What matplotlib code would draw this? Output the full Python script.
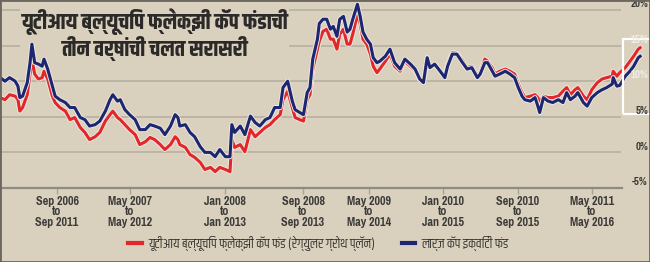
import matplotlib
matplotlib.use('Agg')
import matplotlib.pyplot as plt
import matplotlib.patheffects as pe
from matplotlib.lines import Line2D
from matplotlib.patches import Rectangle

# months counted from Sep 2006 (start of the rolling window)
months = [-6.1, -5.6, -5.1, -4.5, -4.2, -4.0, -3.7, -3.2, -2.9, -2.7, -2.4, -2.0, -1.6, -1.4, -1.0,
          -0.5, -0.2, 0.3, 0.9, 1.4, 1.9, 2.5, 3.0, 3.5, 4.1, 4.6, 5.2, 5.7, 6.0, 6.5,
          6.8, 7.3, 7.8, 8.4, 8.9, 9.5, 10.0, 10.5, 11.1, 11.6, 12.2, 12.7, 13.0, 13.2, 13.8,
          14.3, 14.8, 15.4, 15.9, 16.5, 17.0, 17.5, 18.1, 18.6, 18.8, 19.1, 19.7, 20.2, 20.8, 21.3,
          21.8, 22.4, 22.9, 23.4, 24.0, 24.3, 24.8, 25.3, 25.6, 26.1, 26.5, 26.9, 27.2, 27.5, 28.0,
          28.2, 28.6, 29.0, 29.4, 29.7, 30.1, 30.4, 30.8, 31.2, 31.5, 31.8, 32.3, 32.6, 32.9, 33.3,
          33.7, 34.0, 34.4, 34.7, 35.3, 35.8, 36.3, 36.9, 37.4, 38.0, 38.5, 39.0, 39.4, 39.8, 40.1,
          40.6, 41.2, 41.7, 42.0, 42.5, 43.0, 43.5, 44.1, 44.6, 45.2, 45.5, 46.0, 46.3, 46.8, 47.1,
          47.6, 48.2, 48.7, 49.2, 49.6, 50.0, 50.3, 50.9, 51.4, 51.7, 51.9, 52.3, 52.8, 53.3, 53.9,
          54.4, 54.8, 55.2, 55.7, 56.0, 56.6, 57.0, 57.5, 58.1, 58.6, 59.1, 59.7, 59.8, 60.2, 60.5,
          61.1, 61.6, 62.0, 62.5, 62.7]

# UTI Bluechip Flexicap fund (regular growth), 3-yr rolling return %
uti_fund = [7.7, 7.4, 8.1, 7.9, 7.4, 5.8, 6.3, 8.1, 11.0, 13.1, 11.0, 10.3, 10.5, 11.4, 10.3,
            7.9, 7.0, 6.3, 5.8, 4.6, 4.9, 3.5, 2.8, 1.8, 2.2, 2.8, 4.4, 5.3, 5.8, 4.9,
            4.6, 3.9, 3.2, 2.5, 1.1, 1.5, 2.1, 1.8, 1.1, 0.4, 1.1, 2.2, 1.8, 1.1, 0.7,
            -0.3, -0.7, -1.4, -2.4, -2.1, -2.7, -2.1, -2.4, -2.7, 1.8, 0.7, 1.1, 0.1, 3.2, 2.2,
            2.8, 3.5, 3.9, 4.6, 5.3, 7.4, 8.6, 6.3, 4.9, 4.6, 4.4, 7.4, 8.1, 11.7, 14.5,
            15.6, 17.0, 17.3, 15.9, 15.9, 14.5, 16.6, 17.3, 15.2, 15.2, 16.6, 19.4, 18.0, 15.9, 15.2,
            13.8, 12.1, 11.2, 11.7, 12.8, 13.8, 12.1, 11.4, 12.8, 12.1, 11.5, 10.3, 9.8, 13.3, 11.9,
            12.4, 11.4, 10.7, 12.4, 14.0, 13.9, 13.1, 11.9, 12.1, 10.8, 11.2, 13.1, 12.8, 11.9, 11.0,
            11.4, 11.7, 11.4, 11.0, 9.6, 8.4, 7.7, 7.9, 8.1, 7.7, 7.0, 7.9, 7.7, 7.7, 7.9,
            8.6, 9.1, 8.1, 8.8, 9.1, 7.9, 7.4, 8.8, 9.8, 10.3, 10.5, 10.7, 11.4, 10.7, 11.2,
            11.9, 12.8, 13.5, 14.5, 14.7]

# large cap equity funds category
large_cap = [10.5, 10.0, 10.5, 10.0, 9.3, 7.7, 7.9, 9.8, 12.6, 15.2, 12.6, 12.4, 12.1, 13.1, 11.7,
             9.3, 7.9, 7.4, 7.0, 6.3, 6.3, 4.9, 4.6, 3.7, 3.9, 4.4, 5.8, 7.4, 8.1, 7.2,
             7.4, 6.0, 5.3, 4.6, 3.2, 3.2, 3.9, 3.7, 3.4, 2.5, 3.7, 5.3, 4.9, 3.7, 3.9,
             2.8, 2.2, 0.8, 0.0, 0.0, -0.6, 0.4, -0.6, -0.6, 3.9, 2.8, 3.7, 2.5, 5.1, 4.2,
             3.7, 4.6, 4.9, 6.3, 6.3, 9.1, 10.0, 7.2, 6.0, 5.6, 5.3, 8.4, 9.1, 13.1, 15.9,
             18.1, 18.7, 18.7, 17.3, 17.7, 16.3, 18.7, 19.1, 16.9, 17.3, 18.7, 20.8, 19.1, 16.9, 15.9,
             15.2, 13.3, 12.6, 12.8, 13.5, 14.5, 12.6, 11.7, 13.1, 12.4, 11.7, 10.3, 9.8, 13.3, 11.9,
             12.4, 11.4, 10.5, 12.1, 13.8, 13.8, 12.8, 11.7, 11.9, 10.5, 11.0, 12.6, 12.6, 11.4, 10.7,
             11.0, 11.4, 11.0, 10.5, 9.1, 7.9, 7.4, 7.2, 7.7, 6.5, 5.6, 7.7, 7.2, 7.0, 7.4,
             7.0, 8.4, 7.4, 7.9, 8.4, 7.0, 6.5, 7.7, 8.4, 8.8, 9.1, 9.6, 10.5, 9.3, 9.4,
             10.7, 11.4, 12.1, 13.3, 13.5]

tick_pos = [0, 7.85, 18.06, 26.45, 33.55, 41.5, 49.57, 57.53]
tick_labels = ['Sep 2006\nto\nSep 2011', 'May 2007\nto\nMay 2012', 'Jan 2008\nto\nJan 2013',
               'Sep 2008\nto\nSep 2013', 'May 2009\nto\nMay 2014', 'Jan 2010\nto\nJan 2015',
               'Sep 2010\nto\nSep 2015', 'May 2011\nto\nMay 2016']
y_levels = [20, 15, 10, 5, 0, -5]

title = 'यूटीआय ब्ल्यूचिप फ्लेक्झी कॅप फंडाची\nतीन वर्षांची चलत सरासरी'
name_uti = 'यूटीआय ब्ल्यूचिप फ्लेक्झी कॅप फंड (रेग्युलर ग्रोथ प्लॅन)'
name_cat = 'लार्ज कॅप इक्विटी फंड'

BG = '#d9d0bd'
RED = '#e2262b'
BLUE = '#1d2670'
DEV = ['Khand', 'Noto Sans Devanagari', 'DejaVu Sans']
NARROW = ['Pragati Narrow', 'DejaVu Sans']

fig = plt.figure(figsize=(6.5, 2.62), dpi=100, facecolor=BG)
ax = fig.add_axes([0, 0.2824, 1, 0.7176])
ax.set_facecolor(BG)
ax.set_xlim(-6.13, 63.76)
ax.set_ylim(-5, 21.4)

grid_end = 0.955
ax.hlines(y_levels[:-1], 0, grid_end, transform=ax.get_yaxis_transform(),
          color='#b9b1a2', lw=1.3, zorder=1)

for s in ['top', 'left', 'right']:
    ax.spines[s].set_visible(False)
ax.spines['bottom'].set_color('#8f8b84')
ax.spines['bottom'].set_linewidth(1.6)
ax.spines['bottom'].set_bounds(-6.13, 60.75)

halo = [pe.withStroke(linewidth=3.6, foreground='#eee8dc')]
ax.plot(months, uti_fund, color=RED, lw=2.2, zorder=3, path_effects=halo,
        solid_joinstyle='round')
ax.plot(months, large_cap, color=BLUE, lw=2.2, zorder=4, path_effects=halo,
        solid_joinstyle='round')

ax.set_yticks([])
ax.set_xticks(tick_pos)
ax.set_xticklabels(tick_labels, fontfamily=NARROW, fontweight='bold', fontsize=9.5,
                   color='#3b3a38', linespacing=0.9)
ax.tick_params(axis='x', length=4, width=1, color='#a8a399', pad=2, direction='out')

for v in y_levels:
    faint = v in (15, 10)
    ax.text(0.997, v + 0.1, f'{v}%', transform=ax.get_yaxis_transform(),
            ha='right', va='bottom', fontsize=8.5, fontweight='bold', family=NARROW,
            color='#f2eee6' if faint else '#3b3a38', zorder=6)

# highlighted latest readings
ax.add_patch(Rectangle((0.958, (153 - 115) / 7.12), 0.045, (115 - 40) / 7.12,
                       transform=ax.get_yaxis_transform(),
                       fill=False, edgecolor='white', lw=1.6, zorder=5))

ax.text(0.238, 0.814, title, transform=ax.transAxes, ha='center', va='center', family=DEV,
        fontsize=16, fontweight='bold', color='#2b2a28', linespacing=1.05, zorder=2,
        bbox=dict(facecolor=BG, edgecolor='none', pad=1.0))

handles = [Line2D([], [], color=RED, lw=3), Line2D([], [], color=BLUE, lw=3)]
fig.legend(handles, [name_uti, name_cat], loc='center', bbox_to_anchor=(0.49, 0.072),
           ncol=2, frameon=False, handlelength=1.0, handletextpad=0.5, columnspacing=2.0,
           prop={'family': DEV, 'size': 9.5}, labelcolor='#2b2a28')

fig.patches.append(Rectangle((0, 0), 1, 1, transform=fig.transFigure, fill=False,
                             edgecolor='#6b665e', lw=2))

fig.savefig('out.png', dpi=100, facecolor=BG)
